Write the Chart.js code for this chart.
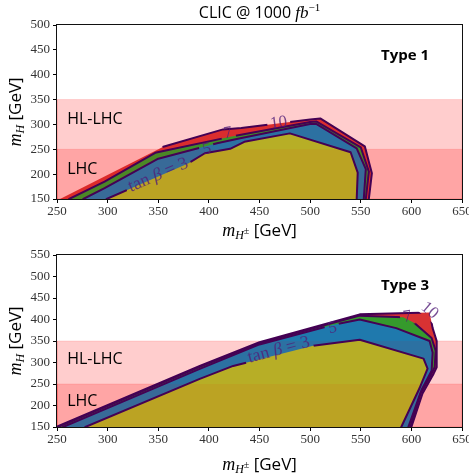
<!DOCTYPE html>
<html><head><meta charset="utf-8">
<script src="https://cdn.jsdelivr.net/npm/chart.js@4.4.1/dist/chart.umd.min.js"></script>
<style>
html,body{margin:0;padding:0;background:#fff;overflow:hidden;}
canvas{display:block;}
</style></head>
<body>
<canvas id="c1" width="469" height="240"></canvas>
<canvas id="c2" width="469" height="236"></canvas>
<script>
// ---------------- data ----------------
const xTickValues = [250, 300, 350, 400, 450, 500, 550, 600, 650];
const yTicksType1 = [150, 200, 250, 300, 350, 400, 450, 500];
const yTicksType3 = [150, 200, 250, 300, 350, 400, 450, 500, 550];
const hlLhcBand = [150, 350];
const lhcBand = [150, 250];
const tanBetaLevels = [10, 7, 5, 3];

// Type 1 contour boundaries [m_H±, m_H]
const type1_tb10 = [[253,150],[355,255],[414,290],[432,293],[500,310],[510,312],[554,256],[561,202],[558,150]];
const type1_tb7  = [[262,150],[297,185],[347,243],[421,275],[500,305],[506,306],[550,254],[558,205],[555,150]];
const type1_tb5  = [[276,150],[297,172],[350,231],[408,262],[431,272],[500,301],[506,301],[546,252],[555,210],[553,150]];
const type1_tb3  = [[299,150],[380,222],[396,242],[421,251],[435,265],[480,282],[540,244],[547,203],[546,150]];

// Type 3 contour boundaries [m_H±, m_H]
const type3_tb10 = [[250,151],[391,292],[450,347],[549,412],[618,416],[621,380],[625,350],[625,289],[622,274],[611,228],[600,150]];
const type3_tb7  = [[251,150],[391,290],[450,345],[549,409],[592,405],[603,392],[620,357],[624,327],[623,289],[620,274],[609,228],[599,150]];
const type3_tb5  = [[256,150],[391,285],[450,342],[523,388],[549,400],[585,380],[618,350],[621,323],[620,281],[610,236],[597,150]];
const type3_tb3  = [[278,150],[391,262],[424,292],[503,339],[549,353],[612,309],[616,286],[608,240],[590,150]];

// ---------------- styling ----------------
const X_MIN = 250, X_MAX = 650;
const fillColors = {10:'rgba(214,39,40,0.95)', 7:'rgba(44,160,44,0.95)', 5:'rgba(31,119,180,0.95)', 3:'rgba(188,189,34,0.95)'};
const lineColor = '#440154';
const labelColor = 'rgba(82,30,120,0.8)';
const SERIF = '"Liberation Serif", "DejaVu Serif", serif';
const SANS = '"Open Sans", "DejaVu Sans", sans-serif';

function pts(arr){ return arr.map(([x,y]) => ({x, y})); }
function bandPoly(b){ return [{x:X_MIN,y:b[0]},{x:X_MAX,y:b[0]},{x:X_MAX,y:b[1]},{x:X_MIN,y:b[1]},{x:X_MIN,y:b[0]}]; }

function drawRuns(ctx, runs, cx, baseY) {
  let total = 0;
  for (const r of runs) { ctx.font = r.font; r.w = ctx.measureText(r.text).width; total += r.w; }
  let x = cx - total/2;
  ctx.textAlign = 'left';
  for (const r of runs) { ctx.font = r.font; ctx.fillText(r.text, x, baseY + (r.dy||0)); x += r.w; }
  return total;
}

function labelRuns(text, size) {
  if (text.startsWith('tan')) {
    return [
      {text:'tan ', font:`${size}px ${SERIF}`},
      {text:'β', font:`italic ${size}px ${SERIF}`},
      {text:' = 3', font:`${size}px ${SERIF}`}
    ];
  }
  return [{text, font:`${size}px ${SERIF}`}];
}

function labelGeom(chart, lb) {
  const xs = chart.scales.x, ys = chart.scales.y;
  const ctx = chart.ctx;
  const runs = labelRuns(lb.text, lb.size);
  let w = 0;
  for (const r of runs) { ctx.font = r.font; w += ctx.measureText(r.text).width; }
  return {cx: xs.getPixelForValue(lb.x), cy: ys.getPixelForValue(lb.y), w, h: lb.size*0.8, ang: lb.angle*Math.PI/180, runs};
}

const decorPlugin = {
  id: 'decor',
  beforeDatasetDraw(chart, args, o) {
    const ds = chart.data.datasets[args.index];
    if (!ds.contourLevel) return;
    const ctx = chart.ctx;
    ctx.save();
    ctx.beginPath();
    ctx.rect(0, 0, chart.width, chart.height);
    for (const lb of o.labels) {
      if (lb.level !== ds.contourLevel) continue;
      const g = labelGeom(chart, lb);
      const hw = g.w/2 + 3, hh = g.h/2 + 1;
      const c = Math.cos(g.ang), s = Math.sin(g.ang);
      const corners = [[-hw,-hh],[hw,-hh],[hw,hh],[-hw,hh]].map(([a,b]) => [g.cx + a*c - b*s, g.cy + a*s + b*c]);
      ctx.moveTo(corners[0][0], corners[0][1]);
      for (let i = 1; i < 4; i++) ctx.lineTo(corners[i][0], corners[i][1]);
      ctx.closePath();
    }
    ctx.clip('evenodd');
  },
  afterDatasetDraw(chart, args) {
    const ds = chart.data.datasets[args.index];
    if (!ds.contourLevel) return;
    chart.ctx.restore();
  },
  afterDatasetsDraw(chart, args, o) {
    const ctx = chart.ctx;
    const a = chart.chartArea;
    const xs = chart.scales.x, ys = chart.scales.y;
    ctx.save();
    ctx.fillStyle = labelColor;
    for (const lb of o.labels) {
      const g = labelGeom(chart, lb);
      ctx.save();
      ctx.translate(g.cx, g.cy);
      ctx.rotate(g.ang);
      ctx.textBaseline = 'middle';
      drawRuns(ctx, g.runs, 0, 0);
      ctx.restore();
    }
    ctx.fillStyle = '#000';
    ctx.textBaseline = 'alphabetic';
    for (const t of o.texts) {
      ctx.font = t.font;
      ctx.textAlign = 'left';
      ctx.fillText(t.text, xs.getPixelForValue(t.x), ys.getPixelForValue(t.y));
    }
    ctx.strokeStyle = '#111';
    ctx.lineWidth = 1;
    ctx.strokeRect(Math.round(a.left)-0.5, Math.round(a.top)-0.5, Math.round(a.right-a.left)+1, Math.round(a.bottom-a.top)+1);
    ctx.restore();
  },
  afterDraw(chart, args, o) {
    const ctx = chart.ctx;
    const a = chart.chartArea;
    const cxp = (a.left + a.right)/2;
    ctx.save();
    ctx.fillStyle = '#000';
    ctx.textBaseline = 'alphabetic';
    drawRuns(ctx, [
      {text:'m', font:`italic 18px ${SERIF}`},
      {text:'H', font:`italic 12px ${SERIF}`, dy:3},
      {text:'±', font:`10px ${SERIF}`, dy:-2},
      {text:' [GeV]', font:`17px ${SANS}`}
    ], cxp, o.xTitleY);
    ctx.save();
    ctx.translate(21, (a.top + a.bottom)/2);
    ctx.rotate(-Math.PI/2);
    drawRuns(ctx, [
      {text:'m', font:`italic 18px ${SERIF}`},
      {text:'H', font:`italic 12px ${SERIF}`, dy:3},
      {text:' [GeV]', font:`17px ${SANS}`}
    ], 0, 0);
    ctx.restore();
    if (o.title) {
      drawRuns(ctx, [
        {text:'CLIC @ 1000 ', font:`16px ${SANS}`},
        {text:'fb', font:`italic 17px ${SERIF}`},
        {text:'−1', font:`11px ${SERIF}`, dy:-7}
      ], cxp, 18);
    }
    ctx.restore();
  }
};

function makeChart(canvasId, cfg) {
  const datasets = [];
  let ord = 100;
  for (const b of [hlLhcBand, lhcBand]) {
    datasets.push({data: bandPoly(b), showLine:true, fill:'shape', backgroundColor:'rgba(255,0,0,0.15)',
      borderColor:'rgba(255,0,0,0.12)', borderWidth:1, pointRadius:0, tension:0, order: ord--});
  }
  tanBetaLevels.forEach((lv, i) => {
    datasets.push({data: pts(cfg.contours[i]), showLine:true, fill:'shape', backgroundColor: fillColors[lv],
      borderWidth:0, pointRadius:0, tension:0, order: ord--});
  });
  for (const b of [hlLhcBand, lhcBand]) {
    datasets.push({data: bandPoly(b), showLine:true, fill:'shape', backgroundColor:'rgba(255,0,0,0.06)',
      borderWidth:0, pointRadius:0, tension:0, order: ord--});
  }
  tanBetaLevels.forEach((lv, i) => {
    const start = (cfg.lineStart && cfg.lineStart[i]) || 0;
    datasets.push({data: pts(cfg.contours[i].slice(start)), showLine:true, fill:false, borderColor: lineColor,
      borderWidth:2, borderJoinStyle:'round', borderCapStyle:'round', pointRadius:0, tension:0,
      order: ord--, contourLevel: lv});
  });
  return new Chart(document.getElementById(canvasId), {
    type: 'scatter',
    data: {datasets},
    options: {
      responsive:false, animation:false, events:[],
      layout: {padding: {top: cfg.padTop, right:7, left:0, bottom:0}},
      plugins: {
        legend:{display:false}, tooltip:{enabled:false}, title:{display:false},
        decor: {labels: cfg.labels, texts: cfg.texts, title: cfg.title, xTitleY: cfg.xTitleY}
      },
      scales: {
        x: {type:'linear', min:X_MIN, max:X_MAX,
          afterBuildTicks: s => { s.ticks = xTickValues.map(v => ({value:v})); },
          ticks:{font:{family:'Liberation Serif', size:13}, color:'#333', padding:1, maxRotation:0, autoSkip:false},
          grid:{drawOnChartArea:false, drawTicks:true, tickLength:4, color:'#000', lineWidth:1},
          border:{display:false},
          afterFit: s => { s.height = cfg.xAxisH; s.paddingLeft = 0; s.paddingRight = 0; }
        },
        y: {type:'linear', min:cfg.yTicks[0], max:cfg.yTicks[cfg.yTicks.length-1],
          afterBuildTicks: s => { s.ticks = cfg.yTicks.map(v => ({value:v})); },
          ticks:{font:{family:'Liberation Serif', size:13}, color:'#333', padding:3, autoSkip:false},
          grid:{drawOnChartArea:false, drawTicks:true, tickLength:4, color:'#000', lineWidth:1},
          border:{display:false},
          afterFit: s => { s.width = 57; s.paddingTop = 0; s.paddingBottom = 0; }
        }
      }
    },
    plugins: [decorPlugin]
  });
}

makeChart('c1', {
  contours: [type1_tb10, type1_tb7, type1_tb5, type1_tb3],
  lineStart: [1, 0, 0, 0],
  yTicks: yTicksType1, padTop: 25, xAxisH: 41, xTitleY: 236, title: true,
  labels: [
    {level:10, text:'10', x:469, y:303, angle:-7, size:17},
    {level:7, text:'7', x:419, y:282, angle:-11, size:17},
    {level:5, text:'5', x:398, y:250, angle:-13, size:17},
    {level:3, text:'tan β = 3', x:350, y:198, angle:-23, size:18}
  ],
  texts: [
    {text:'HL-LHC', x:260, y:300, font:`16px ${SANS}`},
    {text:'LHC', x:260, y:200, font:`16px ${SANS}`},
    {text:'Type 1', x:570, y:430, font:`bold 15px ${SANS}`}
  ]
});

makeChart('c2', {
  contours: [type3_tb10, type3_tb7, type3_tb5, type3_tb3],
  yTicks: yTicksType3, padTop: 15, xAxisH: 49, xTitleY: 230, title: false,
  labels: [
    {level:10, text:'10', x:618, y:421, angle:40, size:17},
    {level:7, text:'7', x:596, y:406, angle:-10, size:17},
    {level:5, text:'5', x:522, y:380, angle:-15, size:17},
    {level:3, text:'tan β = 3', x:469, y:329, angle:-15, size:18}
  ],
  texts: [
    {text:'HL-LHC', x:260, y:297, font:`16px ${SANS}`},
    {text:'LHC', x:260, y:198, font:`16px ${SANS}`},
    {text:'Type 3', x:570, y:468, font:`bold 15px ${SANS}`}
  ]
});
</script>
</body></html>
